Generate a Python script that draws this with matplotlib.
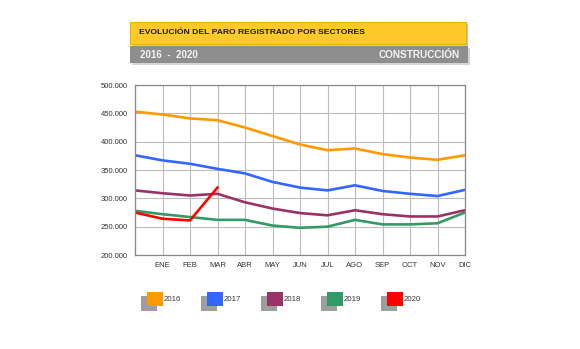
import numpy as np
import matplotlib
matplotlib.use('Agg')
import matplotlib.pyplot as plt
from matplotlib.patches import Rectangle
from matplotlib.ticker import FuncFormatter

plt.rcParams['font.family'] = ['Liberation Sans', 'DejaVu Sans']

# first point is December of the previous year (no label)
months = ['', 'ENE', 'FEB', 'MAR', 'ABR', 'MAY', 'JUN', 'JUL',
          'AGO', 'SEP', 'OCT', 'NOV', 'DIC']
years = ['2016', '2017', '2018', '2019', '2020']
colors = ['#FF9900', '#3366FF', '#993366', '#339966', '#FF0000']

paro_2016 = [453, 448, 441, 438, 425, 410, 395, 385, 388, 378, 372, 368, 376]
paro_2017 = [376, 367, 361, 352, 344, 329, 319, 314, 323, 313, 308, 304, 315]
paro_2018 = [314, 309, 305, 308, 293, 282, 274, 270, 279, 272, 268, 268, 279]
paro_2019 = [278, 272, 267, 262, 262, 252, 248, 250, 262, 254, 254, 256, 275]
paro_2020 = [275, 264, 261, 319]
series = [paro_2016, paro_2017, paro_2018, paro_2019, paro_2020]

W, H = 580, 349
fig = plt.figure(figsize=(W / 100, H / 100), dpi=100)


def fx(px):
    return px / W


def fy(py):
    return 1 - py / H


def frect(x0, y0, x1, y1, **kw):
    # rectangle in pixel coords (top-left origin)
    r = Rectangle((fx(x0), fy(y1)), fx(x1) - fx(x0), fy(y0) - fy(y1),
                  transform=fig.transFigure, **kw)
    fig.patches.append(r)
    return r


# header bands
frect(132, 24, 468, 46, facecolor='#C8C8C8', edgecolor='none')
frect(130, 22, 466, 44, facecolor='#FFCA28', edgecolor='#F0B000', lw=0.8)
frect(132, 48, 470, 65, facecolor='#D5D5D5', edgecolor='none')
frect(130, 46, 468, 63, facecolor='#8E8E8E', edgecolor='none')
fig.text(fx(139), fy(33), 'EVOLUCIÓN DEL PARO REGISTRADO POR SECTORES',
         fontsize=6.1, fontweight='bold', color='#1a1a1a', va='center')
fig.text(fx(140), fy(54.5), '2016  -  2020', fontsize=7, fontweight='bold',
         color='#F4F4F4', va='center')
fig.text(fx(460), fy(54.5), 'CONSTRUCCIÓN', fontsize=7.2, fontweight='bold',
         color='#F4F4F4', va='center', ha='right')

# plot area
ax = fig.add_axes([fx(135), fy(255), fx(465) - fx(135), fy(85) - fy(255)])
x = np.arange(len(months))
for vals, c in zip(series, colors):
    ax.plot(x[:len(vals)], vals, color=c, lw=1.9, solid_joinstyle='round')

ax.set_xlim(0, len(months) - 1)
ax.set_ylim(200, 500)
ax.set_xticks(x)
ax.set_xticklabels(months)
ax.set_yticks(np.arange(200, 501, 50))
ax.yaxis.set_major_formatter(FuncFormatter(lambda v, p: '%d.000' % v))
ax.grid(True, color='#BDBDBD', lw=0.8)
ax.set_axisbelow(True)
for s in ax.spines.values():
    s.set_color('#888888')
    s.set_linewidth(0.9)
ax.tick_params(length=0, labelsize=5.5, labelcolor='#333333', pad=5)

# legend
for i, (yr, c) in enumerate(zip(years, colors)):
    x0 = 147 + 60 * i
    frect(x0 - 6, 296, x0 + 10, 311, facecolor='#9E9E9E', edgecolor='none')
    frect(x0, 292, x0 + 16, 306, facecolor=c, edgecolor='none')
    fig.text(fx(x0 + 17), fy(299.5), yr, fontsize=5.6, color='#333333',
             va='center')

fig.savefig('out.png', dpi=100)
